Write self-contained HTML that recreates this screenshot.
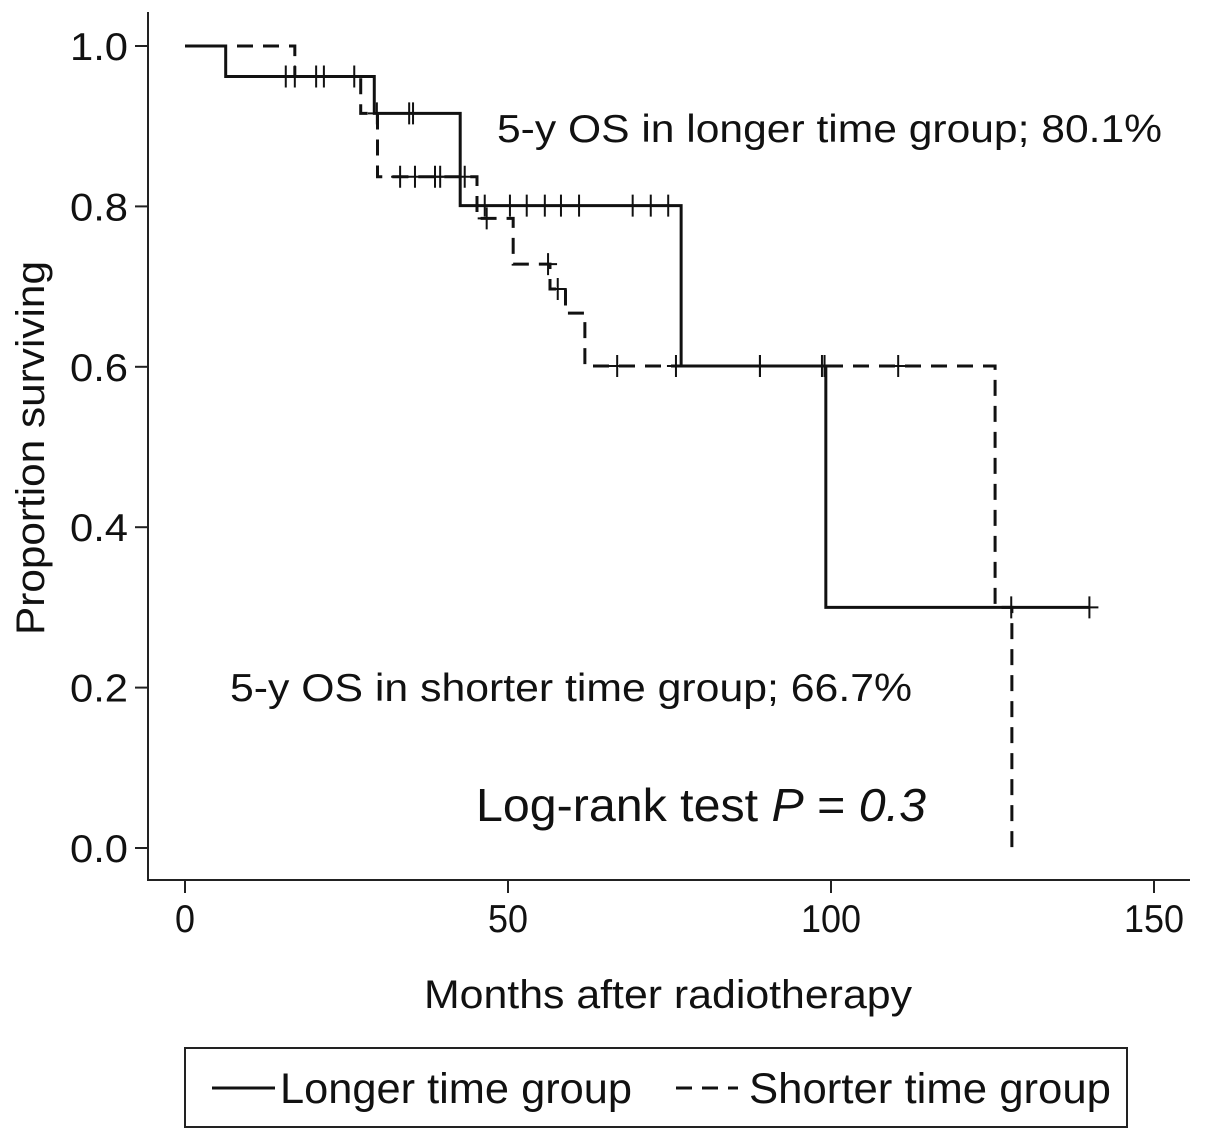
<!DOCTYPE html>
<html><head><meta charset="utf-8"><style>
html,body{margin:0;padding:0;background:#fff}
svg text{font-family:"Liberation Sans",sans-serif;fill:#111}
</style></head><body>
<svg id="chart" width="1205" height="1140" viewBox="0 0 1205 1140" xmlns="http://www.w3.org/2000/svg">
<g id="axes"></g>
<g id="series"></g>
<text x="497" y="142" font-size="39" textLength="665" lengthAdjust="spacingAndGlyphs">5-y OS in longer time group; 80.1%</text>
<text x="230" y="701" font-size="39" textLength="682" lengthAdjust="spacingAndGlyphs">5-y OS in shorter time group; 66.7%</text>
<text x="476" y="821" font-size="46" textLength="450" lengthAdjust="spacingAndGlyphs">Log-rank test <tspan font-style="italic">P</tspan> = <tspan font-style="italic">0.3</tspan></text>
<text x="668" y="1008" font-size="40" text-anchor="middle" textLength="488" lengthAdjust="spacingAndGlyphs">Months after radiotherapy</text>
<text transform="translate(44,448) rotate(-90)" font-size="40" text-anchor="middle" textLength="374" lengthAdjust="spacingAndGlyphs">Proportion surviving</text>
<g>
<rect x="185" y="1048" width="942" height="79" fill="none" stroke="#222" stroke-width="2"/>
<line x1="212" y1="1088" x2="275" y2="1088" stroke="#111" stroke-width="3"/>
<text x="280" y="1103" font-size="43" textLength="352" lengthAdjust="spacingAndGlyphs">Longer time group</text>
<line x1="676" y1="1088" x2="738" y2="1088" stroke="#111" stroke-width="3" stroke-dasharray="16,10"/>
<text x="749" y="1103" font-size="43" textLength="362" lengthAdjust="spacingAndGlyphs">Shorter time group</text>
</g>
</svg>
<script>
const xTicks=[0,50,100,150];
const yTicks=[0,0.2,0.4,0.6,0.8,1.0];
const yTickLabels=["0.0","0.2","0.4","0.6","0.8","1.0"];
const longerTimes=[0,6.3,29.3,42.6,76.8,99.2];
const longerSurv=[1.0,0.962,0.916,0.801,0.601,0.300];
const longerEnd=140;
const longerCensor=[15.6,17.0,20.3,21.5,26.2,29.7,34.7,35.3,46.4,50.3,52.9,55.7,58.2,61.0,69.3,72.1,74.8,89,98.6,140];
const shorterTimes=[0,17,27.2,29.8,45.2,50.8,56.5,58.9,61.9,125.4,128];
const shorterSurv=[1.0,0.962,0.916,0.837,0.785,0.728,0.697,0.667,0.601,0.300,0.0];
const shorterEnd=128;
const shorterCensor=[33.3,35.6,38.7,39.5,43.3,46.7,56.2,57.7,66.9,76,89,99.0,110.4,127.9];
const NS='http://www.w3.org/2000/svg';
const X=t=>185+t*6.46;
const Y=s=>848-s*802;
function mk(tag,attrs,parent){const e=document.createElementNS(NS,tag);for(const k in attrs)e.setAttribute(k,attrs[k]);parent.appendChild(e);return e;}
const axes=document.getElementById('axes');
let a=mk('line',{x1:148,y1:12,x2:148,y2:881,stroke:'#222','stroke-width':2},axes);


a=mk('line',{x1:147,y1:880,x2:1190,y2:880,stroke:'#222','stroke-width':2},axes);


xTicks.forEach(v=>{
 const l=mk('line',{x1:X(v),y1:880,x2:X(v),y2:893,stroke:'#222','stroke-width':2},axes);
 
 
 const t=mk('text',{x:X(v),y:932,'font-size':39,'text-anchor':'middle',textLength:String(v).length*20,lengthAdjust:'spacingAndGlyphs'},axes);t.textContent=v;
 
 
});
yTicks.forEach((v,i)=>{
 const l=mk('line',{x1:135,y1:Y(v),x2:148,y2:Y(v),stroke:'#222','stroke-width':2},axes);
 
 
 const t=mk('text',{x:128,y:Y(v)+14,'font-size':39,'text-anchor':'end',textLength:58,lengthAdjust:'spacingAndGlyphs'},axes);t.textContent=yTickLabels[i];
 
 
});
const series=document.getElementById('series');
function survAt(times,surv,t){let s=surv[0];for(let i=0;i<times.length;i++){if(times[i]<=t)s=surv[i];}return s;}
function draw(times,surv,end,censor,dash,name){
 let d='M'+X(times[0])+','+Y(surv[0]);
 for(let i=1;i<times.length;i++){d+=' H'+X(times[i])+' V'+Y(surv[i]);}
 d+=' H'+X(end);
 const p=mk('path',{d:d,fill:'none',stroke:'#111','stroke-width':3,'stroke-dasharray':dash},series);
 
 
 censor.forEach(t=>{
  const s=survAt(times,surv,t);
  const c=mk('path',{d:'M'+X(t)+','+(Y(s)-11)+' V'+(Y(s)+11)+' M'+(X(t)-9)+','+Y(s)+' H'+(X(t)+9),stroke:'#111','stroke-width':2,fill:'none'},series);
  
  
 });
}
draw(shorterTimes,shorterSurv,shorterEnd,shorterCensor,'16,10','shorter');
draw(longerTimes,longerSurv,longerEnd,longerCensor,'none','longer');
</script>
</body></html>
